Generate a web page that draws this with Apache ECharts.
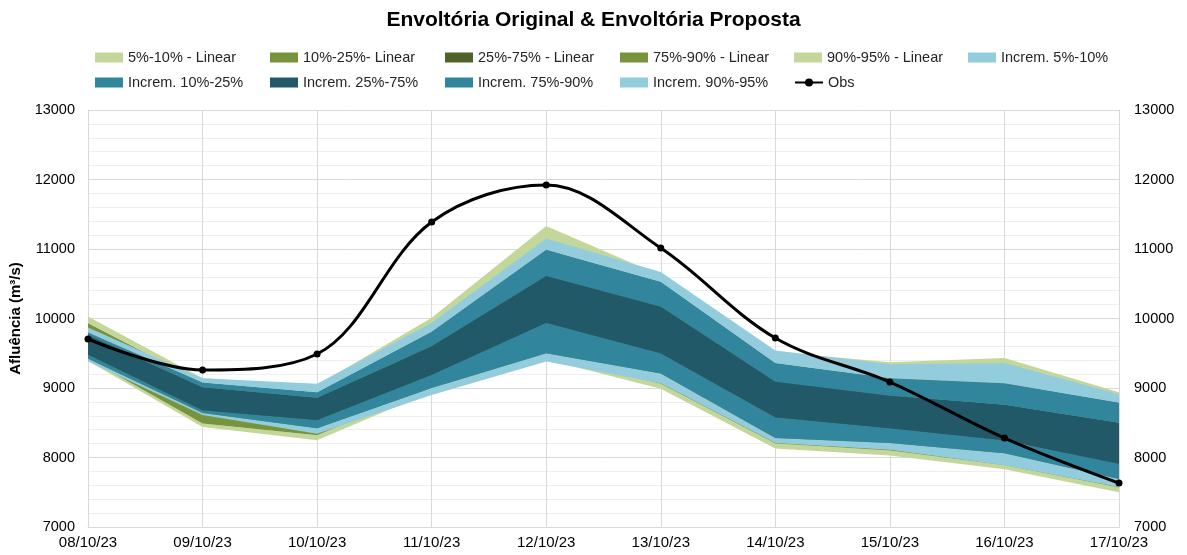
<!DOCTYPE html>
<html>
<head>
<meta charset="utf-8">
<script src="https://cdn.jsdelivr.net/npm/echarts@6/dist/echarts.min.js"></script>
<style>
  html, body { margin: 0; padding: 0; background: #fff; }
  #container { width: 1187px; height: 555px; }
</style>
</head>
<body>
<div id="container"></div>
<script>
// datas
var dias = ['08/10/23', '09/10/23', '10/10/23', '11/10/23', '12/10/23', '13/10/23', '14/10/23', '15/10/23', '16/10/23', '17/10/23'];

// envoltoria original (linear) - percentis
var linP5  = [9390, 8440, 8250, 8950, 9410, 8990, 8130, 8030, 7830, 7500];
var linP10 = [9420, 8490, 8320, 9000, 9450, 9060, 8200, 8100, 7890, 7570];
var linP25 = [9520, 8640, 8480, 9180, 9900, 9450, 8550, 8400, 8230, 7880];
var linP75 = [9820, 8950, 8820, 9620, 10650, 10200, 9100, 8900, 8760, 8500];
var linP90 = [9935, 9080, 8930, 9820, 11000, 10500, 9350, 9150, 9080, 8780];
var linP95 = [10030, 9140, 9040, 10010, 11330, 10620, 9520, 9370, 9430, 8940];

// envoltoria proposta (incremental) - percentis
var incP5  = [9380, 8610, 8340, 8900, 9380, 9070, 8210, 8110, 7890, 7575];
var incP10 = [9420, 8640, 8420, 9000, 9500, 9210, 8280, 8210, 8060, 7690];
var incP25 = [9480, 8680, 8540, 9190, 9940, 9500, 8580, 8420, 8250, 7910];
var incP75 = [9760, 9010, 8860, 9600, 10610, 10170, 9090, 8890, 8760, 8500];
var incP90 = [9800, 9080, 8940, 9810, 10990, 10530, 9360, 9140, 9070, 8790];
var incP95 = [9870, 9140, 9060, 9940, 11150, 10670, 9540, 9340, 9360, 8910];

// observado
var obs = [9705, 9259, 9489, 11388, 11921, 11014, 9719, 9086, 8280, 7632];

var nomesLin = ['5%-10% - Linear', '10%-25%- Linear', '25%-75% - Linear', '75%-90% - Linear', '90%-95% - Linear'];
var nomesInc = ['Increm. 5%-10%', 'Increm. 10%-25%', 'Increm. 25%-75%', 'Increm. 75%-90%', 'Increm. 90%-95%'];
var coresLin = ['#c4d79b', '#77933c', '#4f6228', '#77933c', '#c4d79b'];
var coresInc = ['#93cddd', '#31859c', '#215968', '#31859c', '#93cddd'];

function diff(a, b) {
    return a.map(function (v, i) { return v - b[i]; });
}

function faixas(stack, base, limites, nomes, cores) {
    var out = [{
        name: stack + '_base',
        type: 'line',
        stack: stack,
        data: base,
        symbol: 'none',
        lineStyle: { width: 0, opacity: 0 },
        areaStyle: { opacity: 0 },
        silent: true
    }];
    var ant = base;
    for (var i = 0; i < limites.length; i++) {
        out.push({
            name: nomes[i],
            type: 'line',
            stack: stack,
            data: diff(limites[i], ant),
            symbol: 'none',
            itemStyle: { color: cores[i] },
            lineStyle: { width: 0, opacity: 0 },
            areaStyle: { color: cores[i], opacity: 1 }
        });
        ant = limites[i];
    }
    return out;
}

var series = []
    .concat(faixas('lin', linP5, [linP10, linP25, linP75, linP90, linP95], nomesLin, coresLin))
    .concat(faixas('inc', incP5, [incP10, incP25, incP75, incP90, incP95], nomesInc, coresInc));

series.push({
    name: 'Obs',
    type: 'line',
    data: obs,
    smooth: 0.35,
    symbol: 'circle',
    symbolSize: 7,
    itemStyle: { color: '#000' },
    lineStyle: { color: '#000', width: 3 },
    z: 5
});

var fonte = 'Liberation Sans, Arial, sans-serif';

// legenda em grade (2 linhas, colunas fixas)
var legNomes = nomesLin.concat(nomesInc).concat(['Obs']);
var colX = [95, 270, 445, 620, 794, 968];
var legendas = legNomes.map(function (n, i) {
    var lin = i < 6 ? 0 : 1;
    var col = i < 6 ? i : i - 6;
    return {
        left: colX[col], top: lin === 0 ? 50 : 75,
        padding: 0,
        itemWidth: 28, itemHeight: 10,
        itemStyle: { borderWidth: 0 },
        textStyle: { fontFamily: fonte, fontSize: 14.5, color: '#262626' },
        data: [n === 'Obs' ? { name: n } : { name: n, icon: 'rect' }]
    };
});

var semSep = function (v) { return String(v); };

var dom = document.getElementById('container');
var myChart = echarts.init(dom);
var option = {
    animation: false,
    title: {
        text: 'Envoltória Original & Envoltória Proposta',
        left: 'center',
        top: 5,
        textStyle: { fontFamily: fonte, fontSize: 21, fontWeight: 'bold', color: '#000' }
    },
    legend: legendas,
    grid: { left: 88, right: 68, top: 110, bottom: 28 },
    xAxis: {
        type: 'category',
        boundaryGap: false,
        data: dias,
        axisLine: { lineStyle: { color: '#d9d9d9' } },
        axisTick: { show: false },
        axisLabel: { fontFamily: fonte, fontSize: 15, color: '#000', margin: 8 },
        splitLine: { show: true, lineStyle: { color: '#d9d9d9', width: 1 } }
    },
    yAxis: [
        {
            type: 'value',
            min: 7000, max: 13000, interval: 1000,
            name: 'Afluência (m³/s)',
            nameLocation: 'middle',
            nameGap: 61,
            nameTextStyle: { fontFamily: fonte, fontSize: 15, fontWeight: 'bold', color: '#000' },
            axisLine: { show: true, lineStyle: { color: '#d9d9d9' } },
            axisLabel: { fontFamily: fonte, fontSize: 14.5, color: '#000', margin: 13, formatter: semSep },
            splitLine: { lineStyle: { color: '#d9d9d9' } },
            minorTick: { show: false, splitNumber: 5 },
            minorSplitLine: { show: true, lineStyle: { color: '#efefef' } }
        },
        {
            type: 'value',
            min: 7000, max: 13000, interval: 1000,
            position: 'right',
            axisLine: { show: true, lineStyle: { color: '#d9d9d9' } },
            axisLabel: { fontFamily: fonte, fontSize: 14.5, color: '#000', margin: 15, formatter: semSep },
            splitLine: { show: false }
        }
    ],
    series: series
};

if (option && typeof option === "object") {
    myChart.setOption(option, true);
}
window.onresize = function () {
    myChart.resize();
};
</script>
</body>
</html>
